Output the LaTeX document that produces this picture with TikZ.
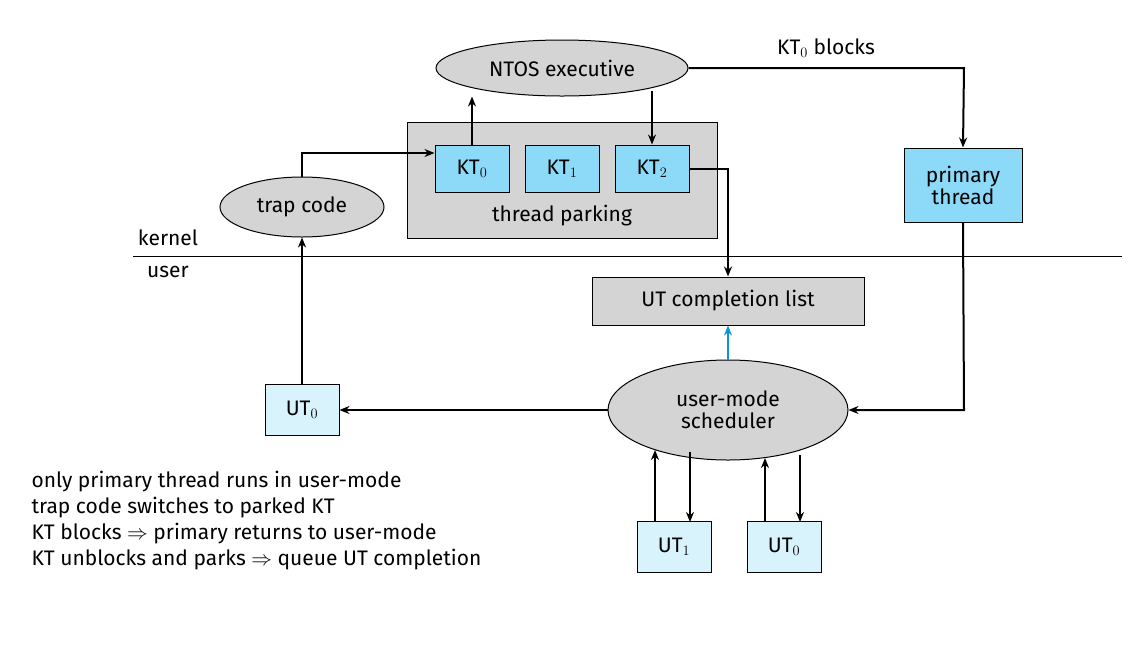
\documentclass[tikz,border=0pt]{standalone}
\usepackage{fontspec}
\setmainfont{Fira Sans}
\usetikzlibrary{arrows.meta,shapes.geometric}
\begin{document}
\begin{tikzpicture}[x=1pt,y=-1pt,
  every node/.style={font=\fontsize{21}{25}\selectfont},
  gell/.style={ellipse,draw,fill=black!17,line width=1pt,inner sep=0pt},
  gbox/.style={draw,fill=black!17,line width=1pt,inner sep=0pt},
  kt/.style={draw,fill=cyan!45,line width=1pt,minimum width=74pt,minimum height=47pt,inner sep=0pt},
  ut/.style={draw,fill=cyan!15,line width=1pt,minimum width=74pt,minimum height=51pt,inner sep=0pt},
  arr/.style={line width=2pt,-{Stealth[length=10pt,width=8pt]}}]
\useasboundingbox (0,0) rectangle (1136,649);
\node[gbox,minimum width=310pt,minimum height=116pt] (park) at (562,180) {};
\node (parklbl) at (562,216) {thread parking};
\node[gell,minimum width=252pt,minimum height=56pt] (ntos) at (562,68) {NTOS executive};
\node[kt] (kt0) at (472,168.5) {KT$_0$};
\node[kt] (kt1) at (562,168.5) {KT$_1$};
\node[kt] (kt2) at (652,168.5) {KT$_2$};
\node[gell,minimum width=164pt,minimum height=60pt] (trap) at (302,207) {trap code};
\node[kt,minimum width=118pt,minimum height=74pt,align=center] (prim) at (963,185) {primary\\[-3pt]thread};
\draw[line width=1pt] (133,256) coordinate (l1) -- (1122,256) coordinate (l2);
\node (kern) at (168,238) {kernel};
\node (usr) at (168,272) {user};
\node[gbox,minimum width=272pt,minimum height=48pt] (list) at (728,301) {UT completion list};
\node[gell,minimum width=240pt,minimum height=100pt,align=center] (sched) at (728,410) {user-mode\\[-3pt]scheduler};
\node[ut] (ut0l) at (302,410) {UT$_0$};
\node[ut] (ut1) at (674,547) {UT$_1$};
\node[ut] (ut0r) at (784,547) {UT$_0$};
\node[anchor=west,align=left] (notes) at (28,521) {only primary thread runs in user-mode\\[1pt]trap code switches to parked KT\\[1pt]KT blocks $\Rightarrow$ primary returns to user-mode\\[1pt]KT unblocks and parks $\Rightarrow$ queue UT completion};
\node (blk) at (826,48) {KT$_0$ blocks};
\draw[arr] (kt0.north) -- (kt0.north |- ntos.south);
\draw[arr] (ntos.south -| kt2.north) ++(0,-6) -- (kt2.north);
\draw[arr] (ntos.east) -- (964,68) -- (prim.north);
\draw[arr] (trap.north) -- (302,153) -- (kt0.west |- 0,153);
\draw[arr] (kt2.east) -- (728,168.5) -- (list.north);
\draw[arr] (prim.south) -- (964,410) -- (sched.east);
\draw[arr] (sched.west) -- (ut0l.east);
\draw[arr] (ut0l.north) -- (trap.south);
\draw[line width=2pt,cyan!80!blue,-{Stealth[length=10pt,width=8pt]}] (sched.north) -- (list.south);
\draw[arr] (655,522) -- (655,450);
\draw[arr] (690,452) -- (690,522);
\draw[arr] (765,522) -- (765,458);
\draw[arr] (800,455) -- (800,522);
\end{tikzpicture}
\end{document}
